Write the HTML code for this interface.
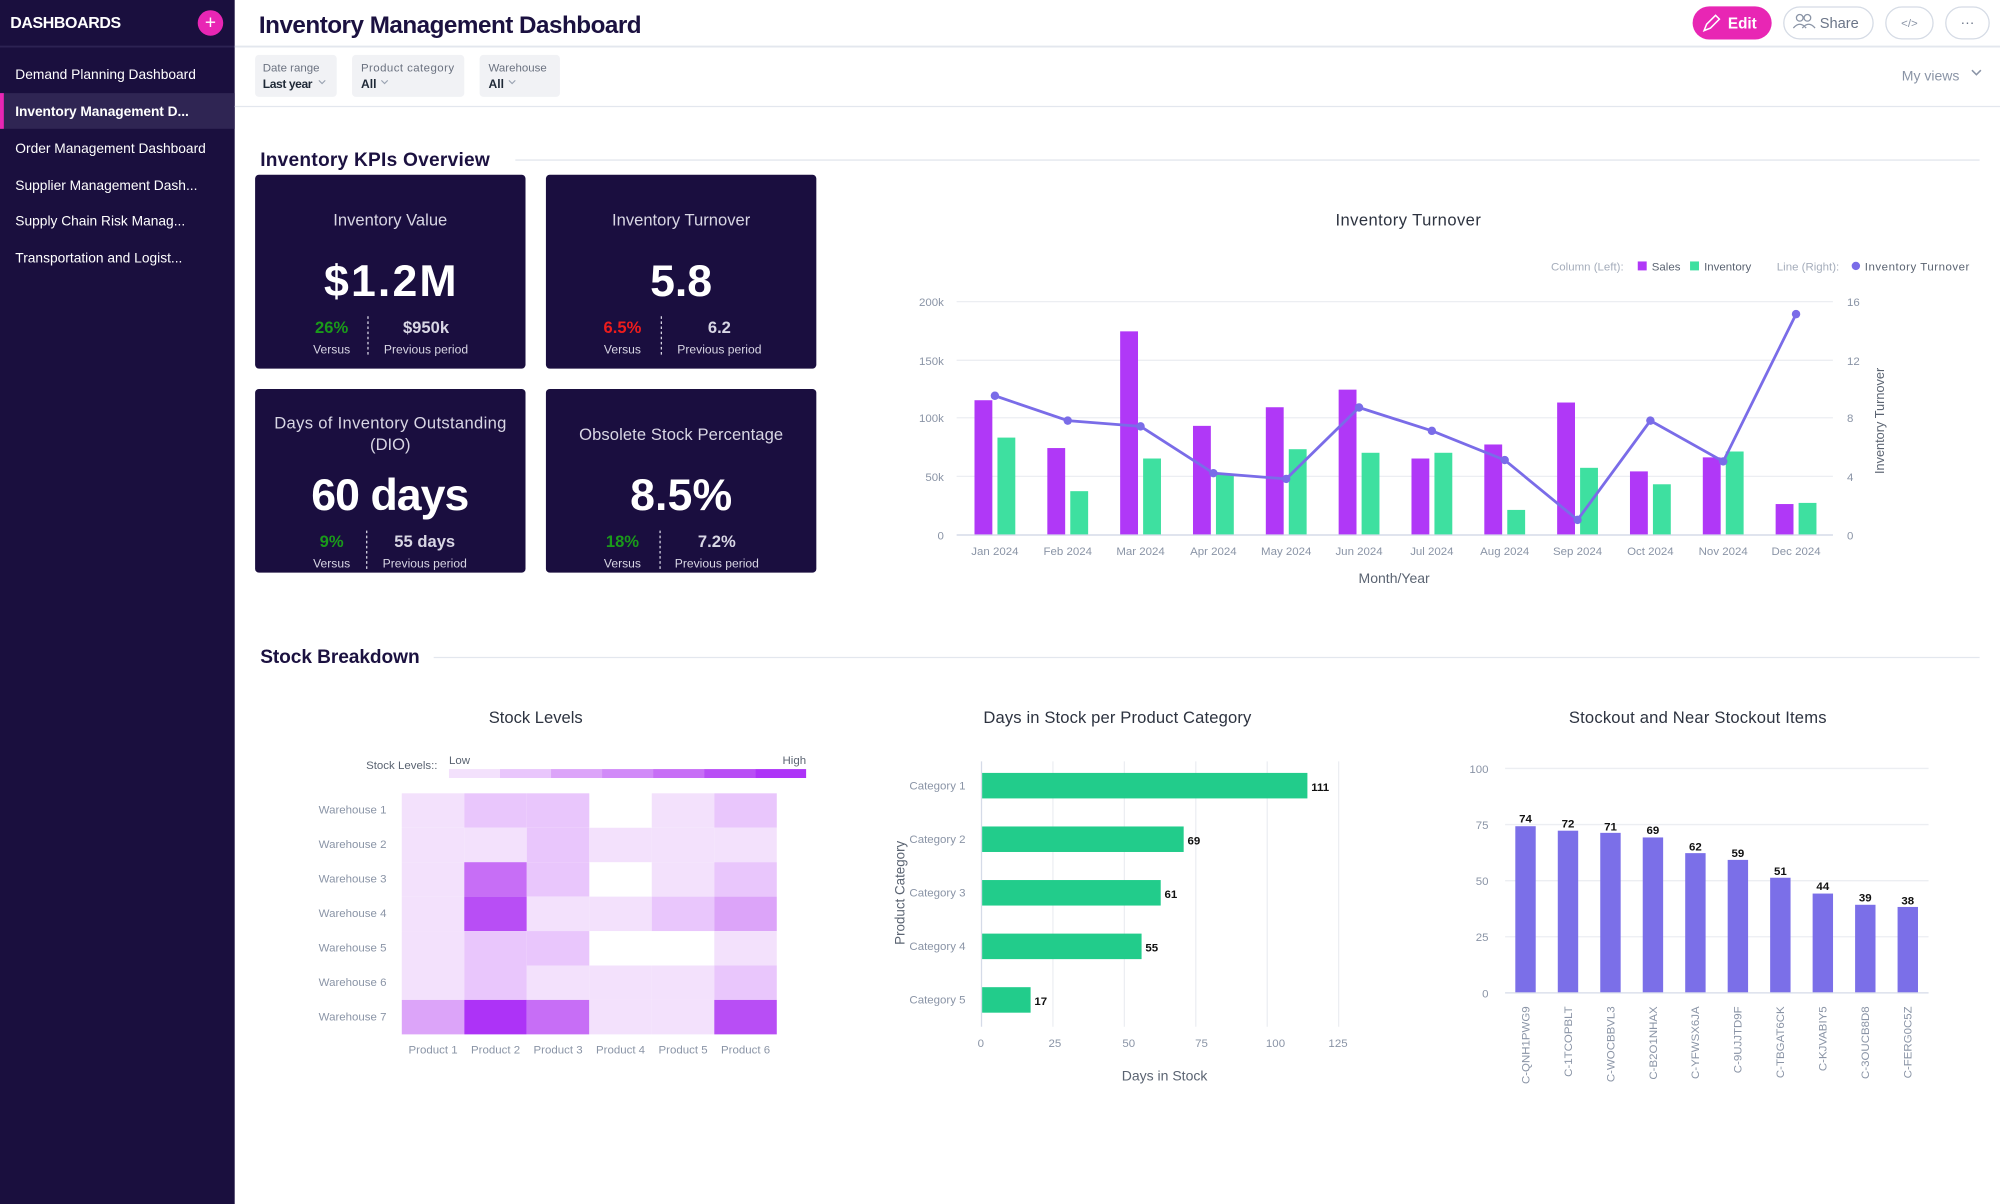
<!DOCTYPE html>
<html><head><meta charset="utf-8"><style>
html,body{margin:0;padding:0;width:2000px;height:1204px;overflow:hidden;background:#fff}
svg{display:block}
text{font-family:"Liberation Sans",sans-serif}
</style></head><body>
<svg width="2000" height="1204" viewBox="0 0 1568 944" preserveAspectRatio="none" xmlns="http://www.w3.org/2000/svg">
<rect width="1568" height="944" fill="#fff"/>
<!-- sidebar -->
<rect x="0" y="0" width="184" height="944" fill="#1a0f3e"/>
<line x1="0" y1="36.5" x2="184" y2="36.5" stroke="#2c2252" stroke-width="1.5"/>
<text x="8" y="22" fill="#fff" font-size="12.5" font-weight="bold" textLength="87">DASHBOARDS</text>
<circle cx="165" cy="18" r="10" fill="#e826b4"/>
<text x="165" y="22.5" fill="#fff" font-size="15" text-anchor="middle">+</text>
<rect x="0" y="73" width="184" height="28" fill="#2f2553"/>
<rect x="0" y="73" width="3" height="28" fill="#e826b4"/>
<g fill="#fff" font-size="10.8">
<text x="12" y="62">Demand Planning Dashboard</text>
<text x="12" y="91" font-weight="bold" textLength="136">Inventory Management D...</text>
<text x="12" y="120">Order Management Dashboard</text>
<text x="12" y="149">Supplier Management Dash...</text>
<text x="12" y="177">Supply Chain Risk Manag...</text>
<text x="12" y="206">Transportation and Logist...</text>
</g>
<!-- header -->
<text x="203" y="26" fill="#1b1140" font-size="19" font-weight="bold" textLength="300">Inventory Management Dashboard</text>
<line x1="184" y1="36.5" x2="1568" y2="36.5" stroke="#e3e7ee" stroke-width="1.5"/>
<line x1="184" y1="83.5" x2="1568" y2="83.5" stroke="#e3e7ee" stroke-width="1"/>
<rect x="1327" y="5" width="62" height="26" rx="13" fill="#e826b4"/>
<text x="1366" y="22.5" fill="#fff" font-size="12" font-weight="bold" text-anchor="middle">Edit</text>
<path d="M1336 24 l2-5 7-7 3 3-7 7z" fill="none" stroke="#fff" stroke-width="1.2"/>
<rect x="1398.5" y="5.5" width="70" height="25" rx="12.5" fill="#fff" stroke="#d5dbe5"/>
<circle cx="1411" cy="14" r="2.6" fill="none" stroke="#8a94a6"/><circle cx="1417" cy="14" r="2.6" fill="none" stroke="#8a94a6"/>
<path d="M1406 22 q5-6 10 0 M1413 22 q5-6 10 0" fill="none" stroke="#8a94a6"/>
<text x="1442" y="22" fill="#6b7588" font-size="11.5" text-anchor="middle">Share</text>
<rect x="1478.5" y="5.5" width="37" height="25" rx="12.5" fill="#fff" stroke="#d5dbe5"/>
<text x="1497" y="21" fill="#8a94a6" font-size="9" text-anchor="middle">&lt;/&gt;</text>
<rect x="1525.5" y="5.5" width="34" height="25" rx="12.5" fill="#fff" stroke="#d5dbe5"/>
<text x="1542.5" y="21" fill="#6b7588" font-size="11" text-anchor="middle">···</text>
<text x="1491" y="63" fill="#8a94a6" font-size="11">My views</text>
<path d="M1546 55 l3.5 3.5 3.5-3.5" fill="none" stroke="#8a94a6" stroke-width="1.2"/>
<!-- filters -->
<rect x="200" y="43" width="64" height="33" rx="3" fill="#f1f2f5"/>
<rect x="276" y="43" width="88" height="33" rx="3" fill="#f1f2f5"/>
<rect x="376" y="43" width="63" height="33" rx="3" fill="#f1f2f5"/>
<g font-size="9" fill="#6b7280"><text x="206" y="56">Date range</text><text x="283" y="56" textLength="73">Product category</text><text x="383" y="56">Warehouse</text></g>
<g font-size="9.5" fill="#1f2937" font-weight="bold"><text x="206" y="69" textLength="39">Last year</text><text x="283" y="69">All</text><text x="383" y="69">All</text></g>
<g fill="none" stroke="#9aa3b2" stroke-width="0.9"><path d="M250 63 l2.5 2.5 2.5-2.5"/><path d="M299 63 l2.5 2.5 2.5-2.5"/><path d="M399 63 l2.5 2.5 2.5-2.5"/></g>
<!-- section 1 -->
<text x="204" y="130" fill="#1b1140" font-size="15" font-weight="bold" textLength="180">Inventory KPIs Overview</text>
<line x1="404" y1="125.5" x2="1552" y2="125.5" stroke="#e3e7ee"/>
<g fill="#1a0e3f"><rect x="200" y="137" width="212" height="152" rx="3"/><rect x="428" y="137" width="212" height="152" rx="3"/><rect x="200" y="305" width="212" height="144" rx="3"/><rect x="428" y="305" width="212" height="144" rx="3"/></g>
<g fill="#d8d6e4" font-size="13" text-anchor="middle">
<text x="306" y="177">Inventory Value</text><text x="534" y="177">Inventory Turnover</text>
<text x="306" y="336" textLength="182">Days of Inventory Outstanding</text><text x="306" y="353">(DIO)</text>
<text x="534" y="345" textLength="160">Obsolete Stock Percentage</text>
</g>
<g fill="#fff" font-size="35" font-weight="bold" text-anchor="middle">
<text x="306" y="232" textLength="104">$1.2M</text><text x="534" y="232">5.8</text><text x="306" y="400" textLength="124">60 days</text><text x="534" y="400" textLength="80">8.5%</text>
</g>
<g font-size="13" font-weight="bold" text-anchor="middle">
<text x="260" y="261" fill="#1a9a1a">26%</text><text x="334" y="261" fill="#d8d6e4">$950k</text>
<text x="488" y="261" fill="#ee1c1c">6.5%</text><text x="564" y="261" fill="#d8d6e4">6.2</text>
<text x="260" y="429" fill="#1a9a1a">9%</text><text x="333" y="429" fill="#d8d6e4">55 days</text>
<text x="488" y="429" fill="#1a9a1a">18%</text><text x="562" y="429" fill="#d8d6e4">7.2%</text>
</g>
<g font-size="9.5" fill="#d8d6e4" text-anchor="middle">
<text x="260" y="277">Versus</text><text x="334" y="277">Previous period</text>
<text x="488" y="277">Versus</text><text x="564" y="277">Previous period</text>
<text x="260" y="445">Versus</text><text x="333" y="445">Previous period</text>
<text x="488" y="445">Versus</text><text x="562" y="445">Previous period</text>
</g>
<g stroke="#d8d6e4" stroke-dasharray="2,2" stroke-width="1"><line x1="288.5" y1="248" x2="288.5" y2="280"/><line x1="518.5" y1="248" x2="518.5" y2="280"/><line x1="287.5" y1="416" x2="287.5" y2="448"/><line x1="517.5" y1="416" x2="517.5" y2="448"/></g>
<!-- chart 1 -->
<text x="1104" y="177" fill="#2d3340" font-size="13" text-anchor="middle" textLength="114">Inventory Turnover</text>
<g font-size="9"><text x="1216" y="212" fill="#a5adbb">Column (Left):</text>
<rect x="1284" y="205" width="7" height="7" fill="#b038f7"/><text x="1295" y="212" fill="#5b6472">Sales</text>
<rect x="1325" y="205" width="7" height="7" fill="#3ee0a0"/><text x="1336" y="212" fill="#5b6472">Inventory</text>
<text x="1393" y="212" fill="#a5adbb">Line (Right):</text>
<circle cx="1455" cy="208.5" r="3.3" fill="#7a6ce8"/><text x="1462" y="212" fill="#5b6472" textLength="82">Inventory Turnover</text></g>
<g stroke="#eceef2"><line x1="750" y1="236.5" x2="1437" y2="236.5"/><line x1="750" y1="282.5" x2="1437" y2="282.5"/><line x1="750" y1="327.5" x2="1437" y2="327.5"/><line x1="750" y1="373.5" x2="1437" y2="373.5"/></g>
<line x1="750" y1="419.5" x2="1437" y2="419.5" stroke="#d5dbe8" stroke-width="1.2"/>
<g font-size="9" fill="#8a94a6" text-anchor="end"><text x="740" y="240">200k</text><text x="740" y="286">150k</text><text x="740" y="331">100k</text><text x="740" y="377">50k</text><text x="740" y="423">0</text></g>
<g font-size="9" fill="#8a94a6"><text x="1448" y="240">16</text><text x="1448" y="286">12</text><text x="1448" y="331">8</text><text x="1448" y="377">4</text><text x="1448" y="423">0</text></g>
<text transform="translate(1477,330) rotate(-90)" font-size="10" fill="#5b6472" text-anchor="middle">Inventory Turnover</text>
<g fill="#b038f7">
<rect x="764" y="313.8" width="14" height="105.2"/><rect x="821.1" y="351.3" width="14" height="67.7"/><rect x="878.2" y="259.8" width="14" height="159.2"/><rect x="935.3" y="333.9" width="14" height="85.1"/><rect x="992.4" y="319.3" width="14" height="99.7"/><rect x="1049.5" y="305.5" width="14" height="113.5"/><rect x="1106.6" y="359.5" width="14" height="59.5"/><rect x="1163.7" y="348.5" width="14" height="70.5"/><rect x="1220.8" y="315.6" width="14" height="103.4"/><rect x="1277.9" y="369.6" width="14" height="49.4"/><rect x="1335" y="358.6" width="14" height="60.4"/><rect x="1392.1" y="395.2" width="14" height="23.8"/>
</g>
<g fill="#3ee0a0">
<rect x="782" y="343.1" width="14" height="75.9"/><rect x="839.1" y="385.1" width="14" height="33.9"/><rect x="896.2" y="359.5" width="14" height="59.5"/><rect x="953.3" y="371.4" width="14" height="47.6"/><rect x="1010.4" y="352.2" width="14" height="66.8"/><rect x="1067.5" y="355" width="14" height="64"/><rect x="1124.6" y="355" width="14" height="64"/><rect x="1181.7" y="399.8" width="14" height="19.2"/><rect x="1238.8" y="366.8" width="14" height="52.2"/><rect x="1295.9" y="379.7" width="14" height="39.3"/><rect x="1353" y="354" width="14" height="65"/><rect x="1410.1" y="394.3" width="14" height="24.7"/>
</g>
<polyline fill="none" stroke="#7a6ce8" stroke-width="2.2" points="780,310.3 837.1,329.8 894.2,334.3 951.3,371 1008.4,375.5 1065.5,319.5 1122.6,337.8 1179.7,360.7 1236.8,407.6 1293.9,329.8 1351,361.8 1408.1,246.3"/>
<g fill="#7a6ce8"><circle cx="780" cy="310.3" r="3.3"/><circle cx="837.1" cy="329.8" r="3.3"/><circle cx="894.2" cy="334.3" r="3.3"/><circle cx="951.3" cy="371" r="3.3"/><circle cx="1008.4" cy="375.5" r="3.3"/><circle cx="1065.5" cy="319.5" r="3.3"/><circle cx="1122.6" cy="337.8" r="3.3"/><circle cx="1179.7" cy="360.7" r="3.3"/><circle cx="1236.8" cy="407.6" r="3.3"/><circle cx="1293.9" cy="329.8" r="3.3"/><circle cx="1351" cy="361.8" r="3.3"/><circle cx="1408.1" cy="246.3" r="3.3"/></g>
<g font-size="9" fill="#8a94a6" text-anchor="middle"><text x="780" y="435">Jan 2024</text><text x="837.1" y="435">Feb 2024</text><text x="894.2" y="435">Mar 2024</text><text x="951.3" y="435">Apr 2024</text><text x="1008.4" y="435">May 2024</text><text x="1065.5" y="435">Jun 2024</text><text x="1122.6" y="435">Jul 2024</text><text x="1179.7" y="435">Aug 2024</text><text x="1236.8" y="435">Sep 2024</text><text x="1293.9" y="435">Oct 2024</text><text x="1351" y="435">Nov 2024</text><text x="1408.1" y="435">Dec 2024</text></g>
<text x="1093" y="457" font-size="11" fill="#5b6472" text-anchor="middle">Month/Year</text>
<!-- section 2 -->
<text x="204" y="520" fill="#1b1140" font-size="15" font-weight="bold" textLength="125">Stock Breakdown</text>
<line x1="340" y1="515.5" x2="1552" y2="515.5" stroke="#e3e7ee"/>
<!-- heatmap -->
<text x="420" y="567" fill="#2d3340" font-size="13" text-anchor="middle">Stock Levels</text>
<text x="343" y="603" font-size="9" fill="#5b6472" text-anchor="end">Stock Levels::</text>
<text x="352" y="599" font-size="9" fill="#5b6472">Low</text><text x="632" y="599" font-size="9" fill="#5b6472" text-anchor="end">High</text>
<rect x="352" y="603" width="40" height="7" fill="#f3e1fc"/><rect x="392" y="603" width="40" height="7" fill="#e9c6fc"/><rect x="432" y="603" width="40" height="7" fill="#dca4f9"/><rect x="472" y="603" width="40" height="7" fill="#d18af8"/><rect x="512" y="603" width="40" height="7" fill="#c76ef6"/><rect x="552" y="603" width="40" height="7" fill="#b84ef5"/><rect x="592" y="603" width="40" height="7" fill="#ad33f7"/>
<g>
<rect x="315" y="622" width="49" height="27" fill="#f3e1fc"/><rect x="364" y="622" width="49" height="27" fill="#e9c6fc"/><rect x="413" y="622" width="49" height="27" fill="#e9c6fc"/><rect x="511" y="622" width="49" height="27" fill="#f3e1fc"/><rect x="560" y="622" width="49" height="27" fill="#e9c6fc"/>
<rect x="315" y="649" width="49" height="27" fill="#f3e1fc"/><rect x="364" y="649" width="49" height="27" fill="#f3e1fc"/><rect x="413" y="649" width="49" height="27" fill="#e9c6fc"/><rect x="462" y="649" width="49" height="27" fill="#f3e1fc"/><rect x="511" y="649" width="49" height="27" fill="#f3e1fc"/><rect x="560" y="649" width="49" height="27" fill="#f3e1fc"/>
<rect x="315" y="676" width="49" height="27" fill="#f3e1fc"/><rect x="364" y="676" width="49" height="27" fill="#c76ef6"/><rect x="413" y="676" width="49" height="27" fill="#e9c6fc"/><rect x="511" y="676" width="49" height="27" fill="#f3e1fc"/><rect x="560" y="676" width="49" height="27" fill="#e9c6fc"/>
<rect x="315" y="703" width="49" height="27" fill="#f3e1fc"/><rect x="364" y="703" width="49" height="27" fill="#b84ef5"/><rect x="413" y="703" width="49" height="27" fill="#f3e1fc"/><rect x="462" y="703" width="49" height="27" fill="#f3e1fc"/><rect x="511" y="703" width="49" height="27" fill="#e9c6fc"/><rect x="560" y="703" width="49" height="27" fill="#dca4f9"/>
<rect x="315" y="730" width="49" height="27" fill="#f3e1fc"/><rect x="364" y="730" width="49" height="27" fill="#e9c6fc"/><rect x="413" y="730" width="49" height="27" fill="#e9c6fc"/><rect x="560" y="730" width="49" height="27" fill="#f3e1fc"/>
<rect x="315" y="757" width="49" height="27" fill="#f3e1fc"/><rect x="364" y="757" width="49" height="27" fill="#e9c6fc"/><rect x="413" y="757" width="49" height="27" fill="#f3e1fc"/><rect x="462" y="757" width="49" height="27" fill="#f3e1fc"/><rect x="511" y="757" width="49" height="27" fill="#f3e1fc"/><rect x="560" y="757" width="49" height="27" fill="#e9c6fc"/>
<rect x="315" y="784" width="49" height="27" fill="#dca4f9"/><rect x="364" y="784" width="49" height="27" fill="#ad33f7"/><rect x="413" y="784" width="49" height="27" fill="#c76ef6"/><rect x="462" y="784" width="49" height="27" fill="#f3e1fc"/><rect x="511" y="784" width="49" height="27" fill="#f3e1fc"/><rect x="560" y="784" width="49" height="27" fill="#b84ef5"/>
</g>
<g font-size="9" fill="#8a94a6" text-anchor="end"><text x="303" y="638">Warehouse 1</text><text x="303" y="665">Warehouse 2</text><text x="303" y="692">Warehouse 3</text><text x="303" y="719">Warehouse 4</text><text x="303" y="746">Warehouse 5</text><text x="303" y="773">Warehouse 6</text><text x="303" y="800">Warehouse 7</text></g>
<g font-size="9" fill="#8a94a6" text-anchor="middle"><text x="339.5" y="826">Product 1</text><text x="388.5" y="826">Product 2</text><text x="437.5" y="826">Product 3</text><text x="486.5" y="826">Product 4</text><text x="535.5" y="826">Product 5</text><text x="584.5" y="826">Product 6</text></g>
<!-- h bar chart -->
<text x="876" y="567" fill="#2d3340" font-size="13" text-anchor="middle" textLength="210">Days in Stock per Product Category</text>
<g stroke="#eceef2"><line x1="825.5" y1="597" x2="825.5" y2="805"/><line x1="881.5" y1="597" x2="881.5" y2="805"/><line x1="937.5" y1="597" x2="937.5" y2="805"/><line x1="993.5" y1="597" x2="993.5" y2="805"/><line x1="1049.5" y1="597" x2="1049.5" y2="805"/></g>
<line x1="769.5" y1="597" x2="769.5" y2="805" stroke="#d5dbe8"/>
<g fill="#22cc8b"><rect x="770" y="606" width="255" height="20"/><rect x="770" y="648" width="158" height="20"/><rect x="770" y="690" width="140" height="20"/><rect x="770" y="732" width="125" height="20"/><rect x="770" y="774" width="38" height="20"/></g>
<g font-size="9" font-weight="bold" fill="#111"><text x="1028" y="620">111</text><text x="931" y="662">69</text><text x="913" y="704">61</text><text x="898" y="746">55</text><text x="811" y="788">17</text></g>
<g font-size="9" fill="#8a94a6" text-anchor="end"><text x="757" y="619">Category 1</text><text x="757" y="661">Category 2</text><text x="757" y="703">Category 3</text><text x="757" y="745">Category 4</text><text x="757" y="787">Category 5</text></g>
<g font-size="9" fill="#8a94a6" text-anchor="middle"><text x="769" y="821">0</text><text x="827" y="821">25</text><text x="885" y="821">50</text><text x="942" y="821">75</text><text x="1000" y="821">100</text><text x="1049" y="821">125</text></g>
<text x="913" y="847" font-size="11" fill="#5b6472" text-anchor="middle">Days in Stock</text>
<text transform="translate(709,700) rotate(-90)" font-size="10.5" fill="#5b6472" text-anchor="middle">Product Category</text>
<!-- column chart -->
<text x="1331" y="567" fill="#2d3340" font-size="13" text-anchor="middle" textLength="202">Stockout and Near Stockout Items</text>
<g stroke="#eceef2"><line x1="1180" y1="602.5" x2="1512" y2="602.5"/><line x1="1180" y1="646.5" x2="1512" y2="646.5"/><line x1="1180" y1="690.5" x2="1512" y2="690.5"/><line x1="1180" y1="734.5" x2="1512" y2="734.5"/></g>
<line x1="1180" y1="778.5" x2="1512" y2="778.5" stroke="#d5dbe8"/>
<g font-size="9" fill="#8a94a6" text-anchor="end"><text x="1167" y="606">100</text><text x="1167" y="650">75</text><text x="1167" y="694">50</text><text x="1167" y="738">25</text><text x="1167" y="782">0</text></g>
<g fill="#7b6fe8">
<rect x="1188" y="647.8" width="16" height="130.2"/><rect x="1221.3" y="651.3" width="16" height="126.7"/><rect x="1254.6" y="653" width="16" height="125"/><rect x="1287.9" y="656.6" width="16" height="121.4"/><rect x="1321.2" y="668.9" width="16" height="109.1"/><rect x="1354.5" y="674.2" width="16" height="103.8"/><rect x="1387.8" y="688.2" width="16" height="89.8"/><rect x="1421.1" y="700.6" width="16" height="77.4"/><rect x="1454.4" y="709.4" width="16" height="68.6"/><rect x="1487.7" y="711.1" width="16" height="66.9"/>
</g>
<g font-size="9" font-weight="bold" fill="#111" text-anchor="middle"><text x="1196" y="645">74</text><text x="1229.3" y="649">72</text><text x="1262.6" y="651">71</text><text x="1295.9" y="654">69</text><text x="1329.2" y="667">62</text><text x="1362.5" y="672">59</text><text x="1395.8" y="686">51</text><text x="1429.1" y="698">44</text><text x="1462.4" y="707">39</text><text x="1495.7" y="709">38</text></g>
<g font-size="9" fill="#8a94a6" text-anchor="end">
<text transform="translate(1199,789) rotate(-90)">C-QNH1PWG9</text><text transform="translate(1232.3,789) rotate(-90)">C-1TCOPBLT</text><text transform="translate(1265.6,789) rotate(-90)">C-WOCBBVL3</text><text transform="translate(1298.9,789) rotate(-90)">C-B2O1NHAX</text><text transform="translate(1332.2,789) rotate(-90)">C-YFWSX6JA</text><text transform="translate(1365.5,789) rotate(-90)">C-9UJJTD9F</text><text transform="translate(1398.8,789) rotate(-90)">C-TBGAT6CK</text><text transform="translate(1432.1,789) rotate(-90)">C-KJVABIY5</text><text transform="translate(1465.4,789) rotate(-90)">C-3OUCB8D8</text><text transform="translate(1498.7,789) rotate(-90)">C-FERG0C5Z</text>
</g>
</svg>
</body></html>
